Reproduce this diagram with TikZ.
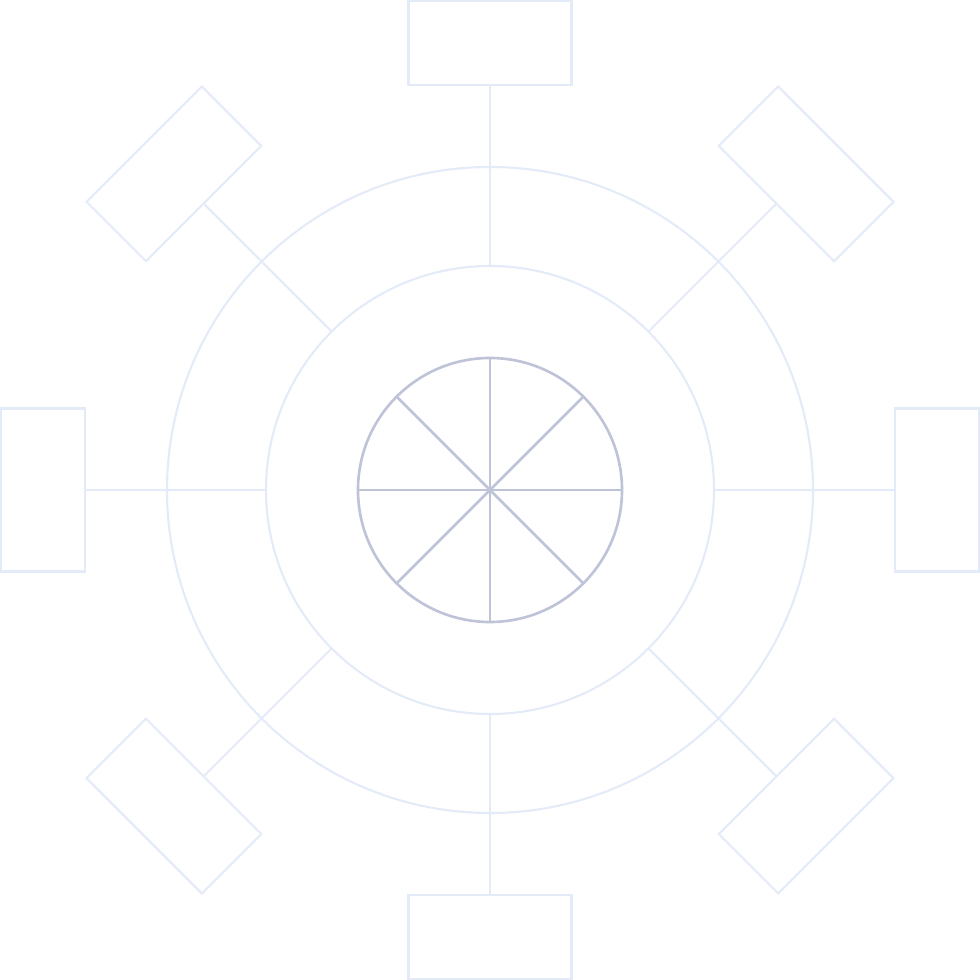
\documentclass[tikz,border=0pt]{standalone}
\usepackage{tikz}
\usetikzlibrary{positioning}

\definecolor{palerim}{HTML}{E4EBF8}
\definecolor{hubline}{HTML}{BEC3D8}

\begin{document}
\begin{tikzpicture}[
    plate/.style={draw=palerim, line width=0.6pt, rectangle, minimum width=1.63cm, minimum height=0.84cm, inner sep=0pt, outer sep=0pt},
    ring/.style={draw=palerim, line width=0.6pt, circle, inner sep=0pt, outer sep=0pt},
    link/.style={draw=palerim, line width=0.6pt}
]
    \useasboundingbox (-4.9,-4.9) rectangle (4.9,4.9);

    \node[ring, minimum size=6.46cm] (outer) at (0,0) {};
    \node[ring, minimum size=4.48cm] (middle) at (0,0) {};
    \node[draw=hubline, line width=0.75pt, circle, inner sep=0pt, outer sep=0pt, minimum size=2.64cm] (hub) at (0,0) {};

    \node[plate] (top) at (90:4.47) {};
    \node[plate, rotate=-45] (topright) at (45:4.47) {};
    \node[plate, rotate=90] (right) at (0:4.47) {};
    \node[plate, rotate=45] (bottomright) at (-45:4.47) {};
    \node[plate] (bottom) at (-90:4.47) {};
    \node[plate, rotate=-45] (bottomleft) at (-135:4.47) {};
    \node[plate, rotate=90] (left) at (180:4.47) {};
    \node[plate, rotate=45] (topleft) at (135:4.47) {};

    \draw[link] (top) -- (middle.north);
    \draw[link] (topright) -- (middle.north east);
    \draw[link] (right) -- (middle.east);
    \draw[link] (bottomright) -- (middle.south east);
    \draw[link] (bottom) -- (middle.south);
    \draw[link] (bottomleft) -- (middle.south west);
    \draw[link] (left) -- (middle.west);
    \draw[link] (topleft) -- (middle.north west);

    \draw[hubline, line width=0.75pt] (hub.north) -- (hub.south);
    \draw[hubline, line width=0.75pt] (hub.east) -- (hub.west);
    \draw[hubline, line width=0.75pt] (hub.north east) -- (hub.south west);
    \draw[hubline, line width=0.75pt] (hub.north west) -- (hub.south east);
\end{tikzpicture}
\end{document}
